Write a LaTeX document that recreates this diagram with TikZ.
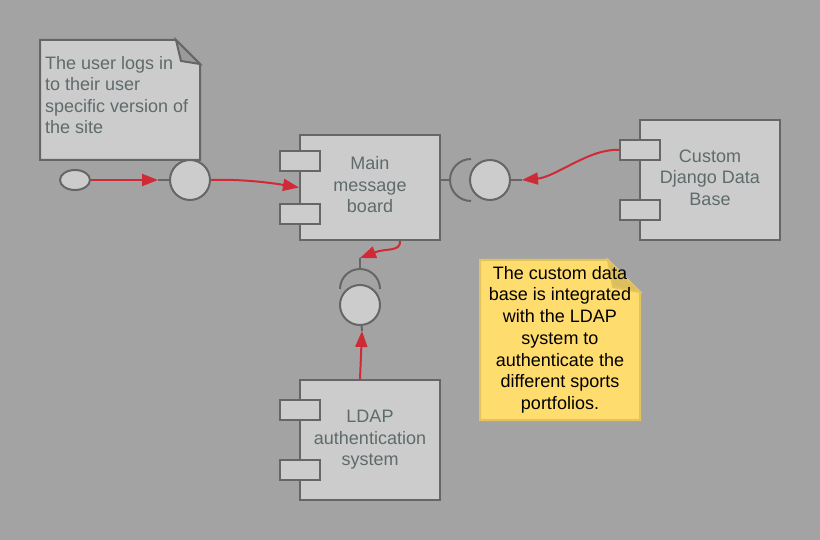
\documentclass[tikz,border=0pt]{standalone}
\usepackage{fontspec}
\setmainfont{Liberation Sans}
\usetikzlibrary{arrows.meta,shapes.geometric}
\definecolor{bgc}{HTML}{A3A3A3}
\definecolor{boxfill}{HTML}{CCCCCC}
\definecolor{strokec}{HTML}{666666}
\definecolor{txtc}{HTML}{5F6B6B}
\definecolor{arrowred}{HTML}{D02A36}
\definecolor{notey}{HTML}{FFDC6E}
\definecolor{notestroke}{HTML}{E3C45C}
\definecolor{notefold}{HTML}{DCBE5E}
\definecolor{foldgray}{HTML}{9A9A9A}
\newcommand{\diafont}{\fontsize{18}{21.5}\selectfont}
\begin{document}
\begin{tikzpicture}[x=1pt,y=-1pt,
  comp/.style={draw=strokec,fill=boxfill,line width=2pt,inner sep=0pt,
    text=txtc,font=\diafont,align=center},
  tabbox/.style={draw=strokec,fill=boxfill,line width=2pt,minimum width=40pt,
    minimum height=20pt,inner sep=0pt},
  iface/.style={circle,draw=strokec,fill=boxfill,line width=2pt,minimum size=40pt,inner sep=0pt},
  stub/.style={draw=strokec,line width=2pt},
  redarrow/.style={draw=arrowred,line width=2pt,-{Triangle[length=16pt,width=12pt]}},
  grnote/.style={draw=strokec,fill=boxfill,line width=2pt,line join=miter},
  ylnote/.style={draw=notestroke,fill=notey,line width=2pt,line join=miter}]
\fill[bgc] (0,0) rectangle (820,540);
\useasboundingbox (0,0) rectangle (820,540);

% note 1
\draw[grnote] (40,40) -- (176,40) -- (200,64) -- (200,160) -- (40,160) -- cycle;
\draw[grnote,fill=foldgray] (176,40) -- (181,61) -- (200,64) -- cycle;
\node[anchor=north west,inner sep=0pt,text=txtc,font=\diafont,align=left] (n1) at (45,56)
  {The user logs in\\to their user\\specific version of\\the site};

% yellow note
\draw[ylnote] (480,260) -- (608,260) -- (640,292) -- (640,420) -- (480,420) -- cycle;
\draw[ylnote,fill=notefold] (608,260) -- (613,287) -- (640,292) -- cycle;
\node[anchor=north,inner sep=0pt,text=black,font=\fontsize{18}{21.7}\selectfont,align=center] (n2) at (560,266)
  {The custom data\\base is integrated\\with the LDAP\\system to\\authenticate the\\different sports\\portfolios.};

% components
\node[comp,minimum width=140pt,minimum height=105pt] (mb) at (370,187.5) {Main\\message\\board\\[-16pt]};
\node[tabbox] (mbt1) at (300,161) {};
\node[tabbox] (mbt2) at (300,214) {};

\node[comp,minimum width=140pt,minimum height=120pt] (cd) at (710,180) {Custom\\Django Data\\Base\\[-16pt]};
\node[tabbox] (cdt1) at (640,150) {};
\node[tabbox] (cdt2) at (640,210) {};

\node[comp,minimum width=140pt,minimum height=120pt] (ld) at (370,440) {LDAP\\authentication\\system};
\node[tabbox] (ldt1) at (300,410) {};
\node[tabbox] (ldt2) at (300,470) {};

% interfaces
\node[ellipse,draw=strokec,fill=boxfill,line width=2pt,minimum width=30pt,minimum height=20pt,inner sep=0pt] (st) at (75,180) {};
\node[iface] (c1) at (190,180) {};
\node[iface] (c2) at (490,180) {};
\node[iface] (c3) at (360,305) {};

% sockets
\coordinate (s2) at (450,180);
\draw[stub] (mb.east |- s2) -- (s2);
\draw[stub] (471,159) arc (270:90:21);
\coordinate (s3) at (360,269);
\draw[stub] (340,289) arc (180:360:20);

% connectors
\coordinate (a1) at (158,180);
\draw[stub] (c1) -- (a1);
\draw[redarrow] (st) -- (a1);
\draw[redarrow] (c1.east) .. controls (238,179) and (266,182) .. (mb.west);

\coordinate (a2) at (522,180);
\draw[stub] (c2) -- (a2);
\draw[redarrow] (cdt1.west) .. controls (590,148) and (556,177) .. (a2);

\coordinate (a3) at (360,258);
\draw[stub] (a3) -- (s3);
\draw[redarrow] ([xshift=30pt]mb.south) .. controls (401,252) and (386,248) .. (a3);

\coordinate (a4) at (362,331);
\draw[stub] (c3) -- (a4);
\draw[redarrow] ([xshift=-10pt]ld.north) -- (a4);
\end{tikzpicture}
\end{document}
